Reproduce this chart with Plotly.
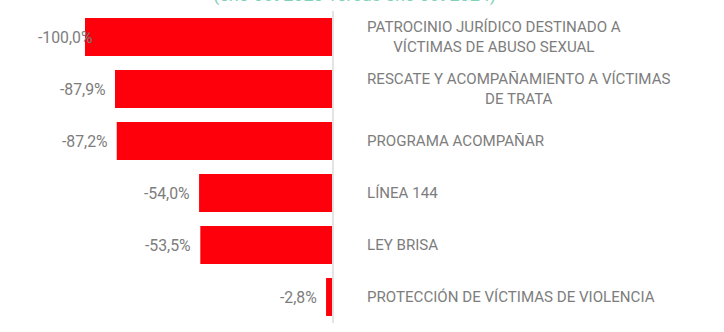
import plotly.graph_objects as go

categories = [
    "PATROCINIO JURÍDICO DESTINADO A<br>VÍCTIMAS DE ABUSO SEXUAL",
    "RESCATE Y ACOMPAÑAMIENTO A VÍCTIMAS<br>DE TRATA",
    "PROGRAMA ACOMPAÑAR",
    "LÍNEA 144",
    "LEY BRISA",
    "PROTECCIÓN DE VÍCTIMAS DE VIOLENCIA",
]
values = [-100.0, -87.9, -87.2, -54.0, -53.5, -2.8]
value_labels = ["-100,0%", "-87,9%", "-87,2%", "-54,0%", "-53,5%", "-2,8%"]
subtitle = "(ene-oct 2023 versus ene-oct 2024)"

RED = "#fe000c"
GREY = "#7d7d7d"
FONT = "Roboto"
LABEL_MIN = -93.0

idx = list(range(len(categories)))

fig = go.Figure()
fig.add_trace(go.Bar(
    x=values, y=idx, orientation="h",
    marker=dict(color=RED, line=dict(width=0)),
    hoverinfo="skip",
))

for i, (v, t, c) in enumerate(zip(values, value_labels, categories)):
    fig.add_annotation(x=max(v, LABEL_MIN), y=i, xref="x", yref="y", text=t,
                       showarrow=False, xanchor="right", xshift=-7,
                       font=dict(family=FONT, size=15.8, color=GREY))
    fig.add_annotation(x=0, y=i, xref="x", yref="y", text=c,
                       showarrow=False, xanchor="left", xshift=32, align="center",
                       font=dict(family=FONT, size=15.1, color=GREY))

fig.add_shape(type="line", xref="x", yref="y", x0=0, x1=0, y0=-0.5, y1=len(categories) - 0.5,
              line=dict(color="#e3e3e3", width=2), layer="above")

fig.add_annotation(xref="paper", yref="paper", x=0.49, y=1, yanchor="bottom", yshift=-8,
                   text=subtitle, showarrow=False,
                   font=dict(family=FONT, size=18, color="#7fd3b4"))

fig.update_layout(
    width=724, height=332,
    margin=dict(l=0, r=0, t=0, b=0),
    paper_bgcolor="white", plot_bgcolor="white",
    bargap=0.27,
    showlegend=False,
    xaxis=dict(range=[-134.27, 157.66], visible=False, fixedrange=True),
    yaxis=dict(range=[5.673, -0.7115], visible=False, fixedrange=True),
)

fig.write_html("out.html", config={"displayModeBar": False})
